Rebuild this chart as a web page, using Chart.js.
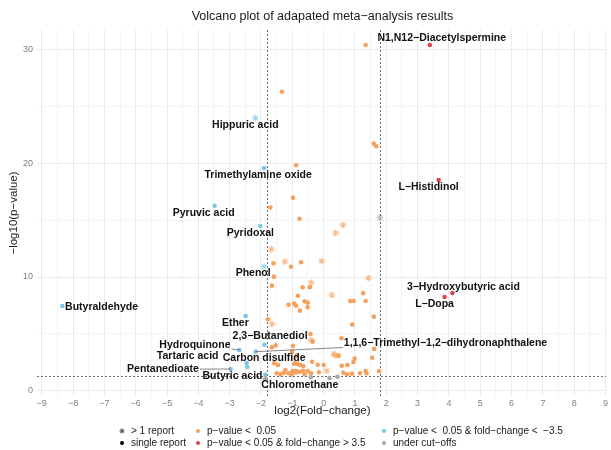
<!DOCTYPE html>
<html>
<head>
<meta charset="utf-8">
<script src="https://cdn.jsdelivr.net/npm/chart.js@4.4.0/dist/chart.umd.min.js"></script>
<style>
  html, body { margin: 0; padding: 0; background: #fff; }
</style>
</head>
<body>
<canvas id="volcano" width="611" height="450"></canvas>
<script>
// [log2 fold-change, -log10 p]
const sigSingle = [
  [1.34, 30.35], [-1.33, 26.25], [1.6, 21.7], [1.68, 21.47], [-0.88, 19.8], [-0.98, 16.96], [-1.7, 16.1], [-0.77, 15.1],
  [-1.6, 11.2], [-0.72, 11.29], [-1.04, 10.9], [-1.59, 10.03], [-1.65, 9.24], [-0.67, 9.1], [-0.44, 9.1], [1.26, 8.57], [-0.82, 8.36],
  [0.85, 7.9], [0.96, 7.9], [1.34, 7.9], [-0.61, 7.87], [-0.51, 7.75], [-1.12, 7.57], [-0.94, 7.66], [-0.88, 7.48], [-0.51, 7.34], [-0.76, 7.05],
  [1.6, 6.52], [-1.78, 6.3], [0.91, 5.82], [-0.42, 5.0], [-0.35, 4.33], [0.57, 4.62], [-1.53, 4.0], [-1.65, 3.83], [-0.98, 3.95], [1.61, 3.68],
  [0.48, 3.1], [-0.86, 3.1], [-1.01, 3.45], [1.55, 2.92], [0.99, 2.84], [0.95, 2.54],
  [-1.58, 2.43], [-0.94, 2.4], [-0.84, 2.4], [-0.75, 2.28], [-0.65, 2.19], [-0.37, 2.57], [-0.19, 2.3], [0.0, 2.28], [0.58, 2.22], [0.76, 2.28], [-1.46, 2.28],
  [-1.22, 1.84], [-1.12, 1.55], [-0.96, 1.61], [-0.86, 1.64], [-0.77, 1.69], [-0.66, 1.78], [-0.51, 1.75], [-1.5, 1.55], [-1.38, 1.46], [-1.27, 1.61],
  [-1.03, 1.46], [-0.61, 1.46], [-0.4, 1.55], [-0.15, 1.64], [0.63, 1.61], [0.75, 1.46], [0.9, 1.52], [1.16, 1.55], [1.34, 1.75], [1.37, 1.55],
  [1.77, 1.73], [-0.99, 1.75], [-0.88, 1.75]
];
const sigMulti = [
  [0.62, 14.56], [0.38, 13.86], [-1.67, 12.43], [-1.24, 11.34], [-0.06, 11.4], [-0.39, 9.5], [1.43, 9.91], [0.26, 8.42],
  [-1.65, 5.88], [-0.4, 4.47], [0.32, 3.25], [0.39, 3.1], [0.1, 1.78]
];
const upSingle = [[3.39, 30.35], [3.67, 18.5], [4.11, 8.6], [3.86, 8.25]];
const downSingle = [
  [-1.9, 19.56], [-3.48, 16.25], [-2.02, 14.47], [-8.34, 7.46], [-2.49, 6.58], [-1.89, 4.06], [-2.69, 3.6],
  [-2.17, 3.45], [-2.46, 2.46], [-2.44, 2.1], [-2.97, 1.93], [-1.86, 1.43]
];
const downMulti = [[-2.18, 23.95], [-1.9, 10.9]];
const nsSingle = [[-1.87, 1.05], [-0.41, 1.2], [0.19, 1.15], [0.44, 1.25]];
const nsMulti = [[1.79, 15.2]];

const cutFC = [-1.8, 1.8];
const cutP = 1.3;

const labelNames = [
  'N1,N12−Diacetylspermine', 'Hippuric acid', 'Trimethylamine oxide', 'L−Histidinol', 'Pyruvic acid', 'Pyridoxal',
  'Phenol', '3−Hydroxybutyric acid', 'L−Dopa', 'Butyraldehyde', 'Ether', '2,3−Butanediol',
  '1,1,6−Trimethyl−1,2−dihydronaphthalene', 'Hydroquinone', 'Tartaric acid', 'Carbon disulfide', 'Pentanedioate',
  'Butyric acid', 'Chloromethane'
];
// label centres, in axis units
const labelAt = [
  [3.77, 30.92], [-2.5, 23.3], [-2.09, 18.9], [3.35, 17.92], [-3.83, 15.61], [-2.34, 13.86],
  [-2.25, 10.35], [4.46, 9.15], [3.54, 7.63], [-7.09, 7.39], [-2.82, 5.94], [-1.71, 4.85],
  [3.89, 4.24], [-4.11, 4.04], [-4.34, 3.07], [-1.9, 2.92], [-5.13, 1.9],
  [-2.91, 1.32], [-0.76, 0.53]
];
const labelTarget = [
  [upSingle, 0], [downMulti, 0], [downSingle, 0], [upSingle, 1], [downSingle, 1], [downSingle, 2],
  [downMulti, 1], [upSingle, 2], [upSingle, 3], [downSingle, 3], [downSingle, 4], [downSingle, 5],
  [downSingle, 7], [downSingle, 6], null, [downSingle, 8], [downSingle, 10],
  [downSingle, 11], [nsSingle, 0]
];

const xGrid = [];
for (let v = -9; v <= 9; v += 0.5) xGrid.push(v);
const yGrid = [0, 5, 10, 15, 20, 25, 30];

const ORANGE = '#F6A05C', RED = '#D9474D', BLUE = '#7CC6E8', GREY = '#A8A8A8';
const FONT = '"Liberation Sans", Arial, sans-serif';

const toXY = arr => arr.map(p => ({ x: p[0], y: p[1] }));
const dot = (data, color) => ({
  data: toXY(data), pointStyle: 'circle', pointRadius: 2.3, backgroundColor: color, borderWidth: 0
});
const star = (data, color) => ({
  data: toXY(data), pointStyle: 'star', pointRadius: 3.4, borderColor: color + 'B0', backgroundColor: color + '55', borderWidth: 1.1
});

const overlay = {
  id: 'overlay',
  beforeDatasetsDraw(chart) {
    const { ctx, chartArea: a, scales: { x, y } } = chart;
    ctx.save();
    ctx.strokeStyle = '#6b6b6b';
    ctx.lineWidth = 1;
    ctx.setLineDash([2, 2]);
    cutFC.forEach(v => {
      const px = Math.round(x.getPixelForValue(v)) + 0.5;
      ctx.beginPath(); ctx.moveTo(px, a.top); ctx.lineTo(px, a.bottom); ctx.stroke();
    });
    const py = Math.round(y.getPixelForValue(cutP)) + 0.5;
    ctx.beginPath(); ctx.moveTo(a.left, py); ctx.lineTo(a.right, py); ctx.stroke();
    ctx.restore();
  },
  afterDatasetsDraw(chart) {
    const { ctx, scales: { x, y } } = chart;
    ctx.save();
    ctx.font = 'bold 10.5px ' + FONT;
    ctx.textAlign = 'center';
    ctx.textBaseline = 'middle';
    labelNames.forEach((name, i) => {
      const cx = x.getPixelForValue(labelAt[i][0]);
      const cy = y.getPixelForValue(labelAt[i][1]);
      const hw = ctx.measureText(name).width / 2 + 1, hh = 6.5;
      const t = labelTarget[i];
      if (t) {
        const p = t[0][t[1]];
        const px = x.getPixelForValue(p[0]), py = y.getPixelForValue(p[1]);
        const dx = px - cx, dy = py - cy;
        const k = Math.min(dx ? hw / Math.abs(dx) : Infinity, dy ? hh / Math.abs(dy) : Infinity);
        if (k < 1) {
          const ex = cx + dx * k, ey = cy + dy * k;
          if (Math.hypot(px - ex, py - ey) > 3) {
            ctx.strokeStyle = '#666';
            ctx.lineWidth = 0.8;
            ctx.beginPath(); ctx.moveTo(px, py); ctx.lineTo(ex, ey); ctx.stroke();
          }
        }
      }
      ctx.fillStyle = '#111';
      ctx.fillText(name, cx, cy);
    });
    ctx.restore();
  },
  afterDraw(chart) {
    const { ctx, chartArea: a } = chart;
    const mid = (a.left + a.right) / 2 + 1;
    ctx.save();
    ctx.fillStyle = '#1a1a1a';
    ctx.textAlign = 'center';
    ctx.textBaseline = 'middle';
    ctx.font = '12.5px ' + FONT;
    ctx.fillText('Volcano plot of adapated meta−analysis results', mid, 17);
    ctx.font = '11.5px ' + FONT;
    ctx.fillText('log2(Fold−change)', mid, 411);
    ctx.save();
    ctx.translate(14, 213);
    ctx.rotate(-Math.PI / 2);
    ctx.fillText('−log10(p−value)', 0, 0);
    ctx.restore();

    // legend
    ctx.font = '10px ' + FONT;
    ctx.textAlign = 'left';
    const rows = [431, 443];
    const entries = [
      [122, rows[0], 'star', '#444', '> 1 report'],
      [122, rows[1], 'dot', '#000', 'single report'],
      [198, rows[0], 'dot', ORANGE, 'p−value <  0.05'],
      [198, rows[1], 'dot', RED, 'p−value < 0.05 & fold−change > 3.5'],
      [384, rows[0], 'dot', BLUE, 'p−value <  0.05 & fold−change <  −3.5'],
      [384, rows[1], 'dot', GREY, 'under cut−offs']
    ];
    entries.forEach(([ex, ey, shape, col, txt]) => {
      if (shape === 'dot') {
        ctx.fillStyle = col;
        ctx.beginPath(); ctx.arc(ex, ey, 2, 0, Math.PI * 2); ctx.fill();
      } else {
        ctx.strokeStyle = col;
        ctx.lineWidth = 0.9;
        for (let k = 0; k < 4; k++) {
          const ang = k * Math.PI / 4;
          ctx.beginPath();
          ctx.moveTo(ex - 2.6 * Math.cos(ang), ey - 2.6 * Math.sin(ang));
          ctx.lineTo(ex + 2.6 * Math.cos(ang), ey + 2.6 * Math.sin(ang));
          ctx.stroke();
        }
      }
      ctx.fillStyle = '#1a1a1a';
      ctx.fillText(txt, ex + 9, ey);
    });
    ctx.restore();
  }
};

new Chart(document.getElementById('volcano'), {
  type: 'scatter',
  data: {
    datasets: [
      star(nsMulti, GREY),
      dot(nsSingle, GREY),
      dot(sigSingle, ORANGE),
      star(sigMulti, ORANGE),
      dot(upSingle, RED),
      dot(downSingle, BLUE),
      star(downMulti, BLUE)
    ]
  },
  options: {
    responsive: false,
    animation: false,
    events: [],
    layout: { padding: { top: 30, right: 0, left: 0, bottom: 0 } },
    plugins: { legend: { display: false }, tooltip: { enabled: false } },
    scales: {
      x: {
        type: 'linear',
        min: -9.15,
        max: 9.01,
        afterBuildTicks: s => { s.ticks = xGrid.map(v => ({ value: v })); },
        afterFit: s => { s.height = 54; },
        border: { display: false },
        grid: {
          drawTicks: false,
          lineWidth: 1,
          color: c => (Number.isInteger(c.tick.value) ? '#ebebeb' : '#f4f4f4')
        },
        ticks: {
          padding: 2,
          maxRotation: 0,
          minRotation: 0,
          autoSkip: false,
          color: '#808080',
          font: { size: 9, family: FONT },
          callback: v => (Number.isInteger(v) ? String(v).replace('-', '−') : '')
        }
      },
      y: {
        type: 'linear',
        min: -0.44,
        max: 31.67,
        afterBuildTicks: s => { s.ticks = yGrid.map(v => ({ value: v })); },
        afterFit: s => { s.width = 37; },
        border: { display: false },
        grid: {
          drawTicks: false,
          lineWidth: 1,
          color: c => (c.tick.value % 10 === 0 ? '#ebebeb' : '#f4f4f4')
        },
        ticks: {
          padding: 4,
          color: '#808080',
          font: { size: 9, family: FONT },
          callback: v => (v % 10 === 0 ? String(v) : '')
        }
      }
    }
  },
  plugins: [overlay]
});
</script>
</body>
</html>
